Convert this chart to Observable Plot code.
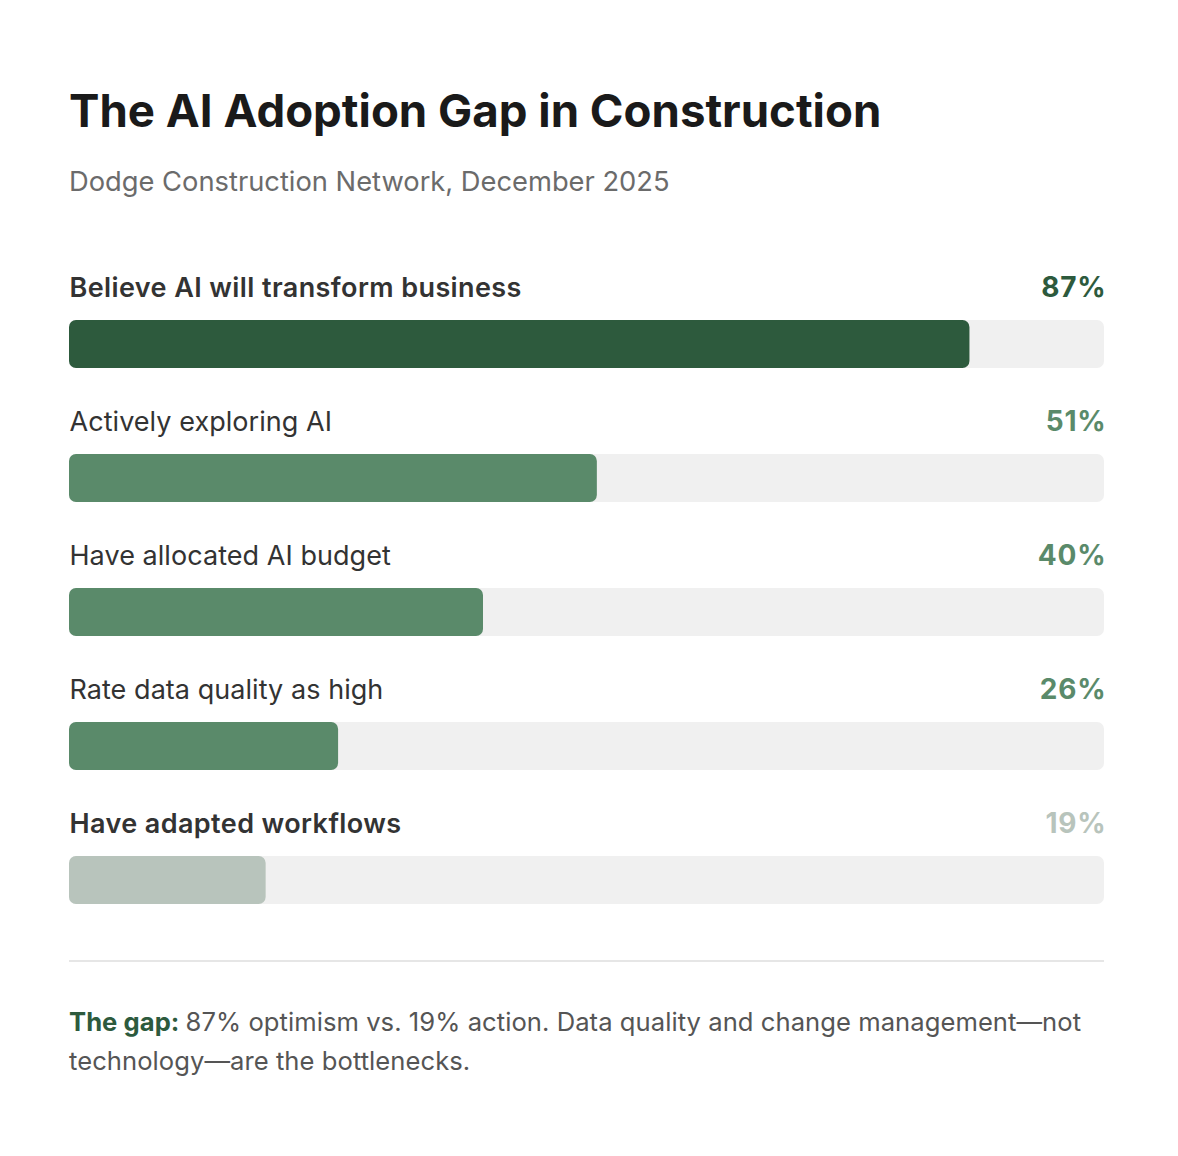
<!DOCTYPE html>
<html>
<head>
<meta charset="utf-8">
<script src="https://cdn.jsdelivr.net/npm/d3@7"></script>
<script src="https://cdn.jsdelivr.net/npm/@observablehq/plot@0.6"></script>
<style>
  html, body { margin: 0; padding: 0; background: #ffffff; }
  body { width: 1178px; height: 1156px; position: relative; font-family: Inter, "Noto Sans", sans-serif; }
  .blk { position: absolute; left: 69px; width: 1035px; }
  #title { top: 85px; font-size: 45.6px; line-height: 52px; font-weight: 700; color: #1a1a1a; margin: 0; }
  #subtitle { top: 166px; font-size: 27.3px; line-height: 32px; color: #6b6b6b; }
  #chart { top: 253px; }
  #divider { top: 960px; height: 0; border-top: 2px solid #e6e6e6; }
  #note { top: 1002px; font-size: 25.6px; line-height: 39px; color: #555555; letter-spacing: 0.05px; }
  #note b { color: #2d5a3d; font-weight: 700; }
</style>
</head>
<body>
<h1 class="blk" id="title">The AI Adoption Gap in Construction</h1>
<div class="blk" id="subtitle">Dodge Construction Network, December 2025</div>
<div class="blk" id="chart"></div>
<div class="blk" id="divider"></div>
<div class="blk" id="note"><b>The gap: </b>87% optimism vs. 19% action. Data quality and change management—not technology—are the bottlenecks.</div>
<script>
const categories = [
  "Believe AI will transform business",
  "Actively exploring AI",
  "Have allocated AI budget",
  "Rate data quality as high",
  "Have adapted workflows"
];
const values = [87, 51, 40, 26, 19];
const valueLabels = ["87%", "51%", "40%", "26%", "19%"];

const data = categories.map((c, i) => ({category: c, value: values[i], label: valueLabels[i], i}));
const colors = ["#2d5a3d", "#5a8a6a", "#5a8a6a", "#5a8a6a", "#b8c4bc"];
const emphasized = new Set([0, 4]);

const bandH = 134;
const chart = Plot.plot({
  width: 1035,
  height: bandH * categories.length,
  marginTop: 0, marginBottom: 0, marginLeft: 0, marginRight: 0,
  style: {fontFamily: "Inter, 'Noto Sans', sans-serif", background: "transparent", overflow: "visible"},
  x: {domain: [0, 100], axis: null},
  y: {domain: categories, axis: null, padding: 0},
  color: {type: "ordinal", domain: categories, range: colors},
  marks: [
    Plot.barX(data, {y: "category", x1: 0, x2: 100, fill: "#f0f0f0", rx: 7, insetTop: 67, insetBottom: 19}),
    Plot.barX(data, {y: "category", x1: 0, x2: "value", fill: "category", rx: 7, insetTop: 67, insetBottom: 19}),
    Plot.text(data.filter(d => emphasized.has(d.i)), {y: "category", x: 0, text: "category", textAnchor: "start", dy: -32, fontSize: 27, fontWeight: 600, fill: "#333333"}),
    Plot.text(data.filter(d => !emphasized.has(d.i)), {y: "category", x: 0, text: "category", textAnchor: "start", dy: -32, fontSize: 27, fontWeight: 400, fill: "#333333"}),
    Plot.text(data, {y: "category", x: 100, text: "label", textAnchor: "end", dx: 2, dy: -32, fontSize: 28, fontWeight: 700, fill: "category"})
  ]
});
// letter-spacing per text mark (mark groups are in mark order)
const groups = Array.from(chart.children).filter(n => n.tagName.toLowerCase() === "g");
const spacing = [null, null, "0.4px", "0.05px", "0.8px"];
groups.forEach((g, k) => { if (spacing[k]) g.setAttribute("letter-spacing", spacing[k]); });
document.getElementById("chart").appendChild(chart);
</script>
</body>
</html>
